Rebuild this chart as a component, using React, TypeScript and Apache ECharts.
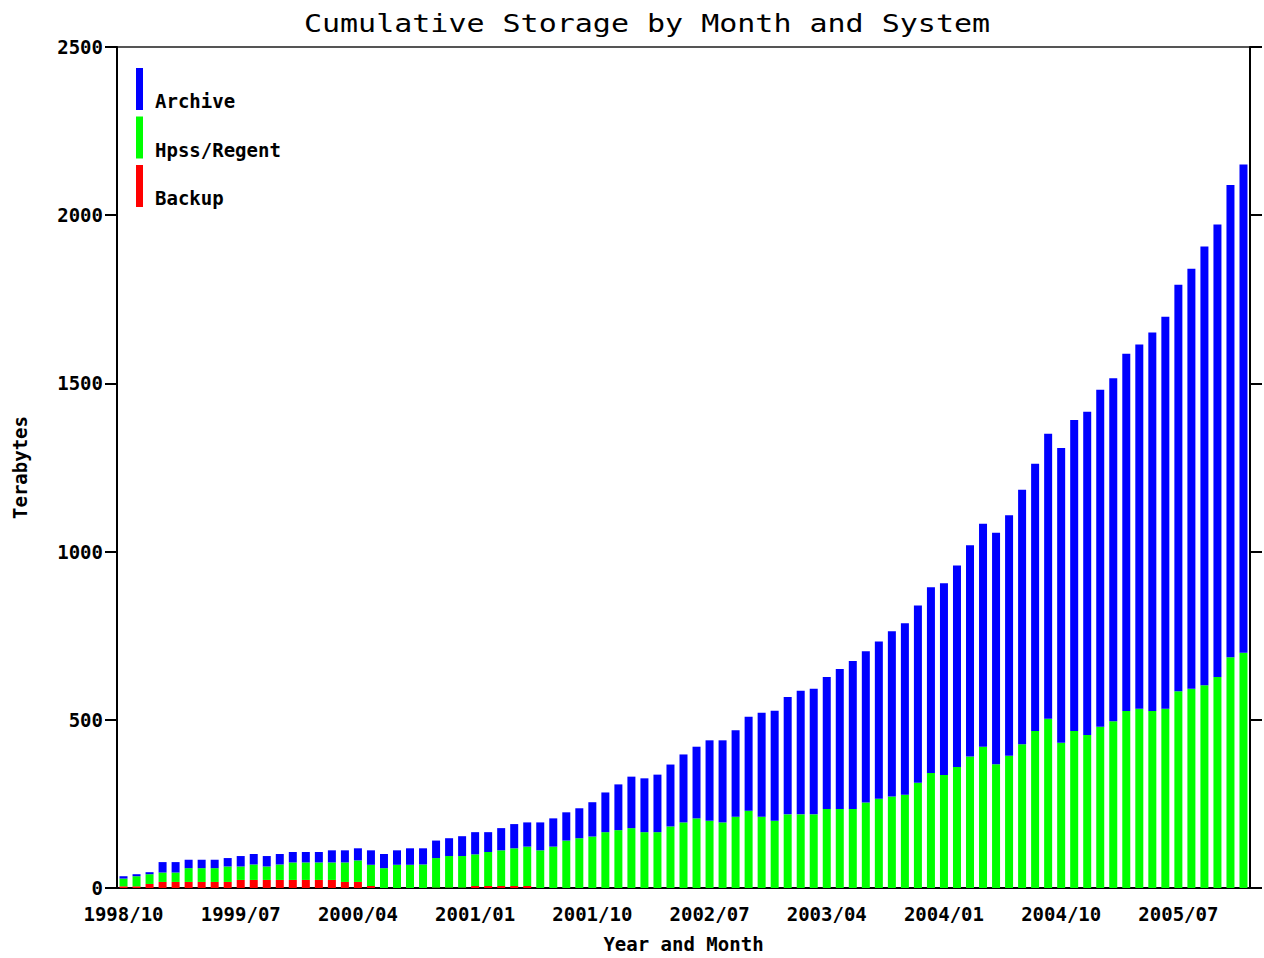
import React, { useEffect, useRef } from "react";
import * as echarts from "echarts";

const startYear = 1998;
const startMonth = 10;
const monthCount = 87;
const months: string[] = [];
for (let k = 0; k < monthCount; k++) {
  const t = startMonth - 1 + k;
  const y = startYear + Math.floor(t / 12);
  const m = (t % 12) + 1;
  months.push(`${y}/${m < 10 ? "0" + m : m}`);
}

const backup = [
  5, 5, 12, 18, 18, 18, 18, 18, 18, 24, 24, 24, 24, 24, 24, 24, 24, 18, 18, 6,
  0, 0, 0, 0, 1, 1, 1, 6, 6, 6, 6, 6, 0, 0, 0, 0, 0, 0, 0, 0,
  0, 0, 0, 0, 0, 0, 0, 0, 0, 0, 0, 0, 0, 0, 0, 0, 0, 0, 0, 0,
  0, 0, 0, 0, 0, 0, 0, 0, 0, 0, 0, 0, 0, 0, 0, 0, 0, 0, 0, 0,
  0, 0, 0, 0, 0, 0, 0,
];

const hpss = [
  23, 30, 29, 28, 28, 41, 41, 41, 46, 40, 46, 40, 46, 52, 52, 52, 52, 58, 64, 63,
  59, 69, 69, 70, 88, 94, 94, 94, 101, 106, 112, 117, 112, 123, 141, 148, 153, 166, 172, 178,
  166, 166, 183, 195, 207, 200, 195, 212, 230, 212, 200, 219, 219, 219, 235, 235, 235, 254, 265, 272,
  277, 313, 342, 336, 360, 391, 420, 368, 393, 427, 467, 503, 432, 467, 455, 479, 496, 526, 533, 526,
  533, 585, 592, 603, 627, 686, 699,
];

const archive = [
  7, 6, 6, 31, 31, 25, 25, 25, 25, 31, 31, 31, 31, 31, 31, 31, 36, 36, 36, 43,
  42, 43, 49, 48, 52, 53, 59, 66, 59, 66, 72, 72, 83, 84, 84, 89, 102, 118, 136, 153,
  160, 171, 184, 202, 213, 239, 244, 257, 279, 309, 327, 349, 367, 373, 392, 416, 440, 450, 468, 491,
  510, 527, 552, 570, 599, 628, 663, 688, 715, 757, 794, 847, 876, 924, 961, 1002, 1019, 1062, 1083, 1125,
  1165, 1208, 1249, 1304, 1345, 1404, 1452,
];

const FONT = "'DejaVu Sans Mono', monospace";

export default function App() {
  const ref = useRef<HTMLDivElement>(null);
  useEffect(() => {
    if (!ref.current) return;
    const chart = echarts.init(ref.current, null, { renderer: "svg" });
    const labelStyle = { fontFamily: FONT, fontWeight: "bold" as const, fontSize: 19, color: "#000" };
    chart.setOption({
      animation: false,
      backgroundColor: "#fff",
      graphic: [
        {
          type: "text",
          x: 647,
          y: 24,
          scaleX: 1.25,
          style: {
            text: "Cumulative Storage by Month and System",
            fontFamily: FONT,
            fontSize: 24,
            fill: "#000",
            textAlign: "center",
            textVerticalAlign: "middle",
          },
        },
      ],
      grid: {
        left: 117,
        right: 14,
        top: 47,
        height: 846,
        show: true,
        borderColor: "#555",
        borderWidth: 2,
        backgroundColor: "transparent",
      },
      legend: {
        orient: "vertical",
        left: 136,
        top: 68,
        padding: 0,
        itemWidth: 7,
        itemHeight: 42,
        itemGap: 6,
        icon: "rect",
        data: ["Archive", "Hpss/Regent", "Backup"],
        formatter: "{a|{name}}",
        textStyle: {
          ...labelStyle,
          rich: { a: { ...labelStyle, padding: [24, 0, 0, 7] } },
        },
      },
      xAxis: {
        type: "category",
        data: months,
        name: "Year and Month",
        nameLocation: "middle",
        nameGap: 46,
        nameTextStyle: labelStyle,
        axisLine: { lineStyle: { color: "#000", width: 2 } },
        axisTick: { interval: 8, alignWithLabel: true, length: 12, lineStyle: { color: "#000", width: 2 } },
        axisLabel: { interval: 8, margin: 16, ...labelStyle },
        splitLine: { show: false },
      },
      yAxis: [
        {
          type: "value",
          min: 0,
          max: 2500,
          interval: 500,
          name: "Terabytes",
          nameLocation: "middle",
          nameGap: 88,
          nameTextStyle: labelStyle,
          axisLine: { show: true, lineStyle: { color: "#000", width: 2 } },
          axisTick: { show: true, length: 12, lineStyle: { color: "#000", width: 2 } },
          axisLabel: { margin: 14, formatter: (v: number) => String(v), ...labelStyle },
          splitLine: { show: false },
        },
        {
          type: "value",
          position: "right",
          min: 0,
          max: 2500,
          interval: 500,
          axisLine: { show: true, lineStyle: { color: "#000", width: 2 } },
          axisTick: { show: true, length: 12, lineStyle: { color: "#000", width: 2 } },
          axisLabel: { show: false },
          splitLine: { show: false },
        },
      ],
      series: [
        { name: "Backup", type: "bar", stack: "total", data: backup, barWidth: 8, itemStyle: { color: "#ff0000" } },
        { name: "Hpss/Regent", type: "bar", stack: "total", data: hpss, barWidth: 8, itemStyle: { color: "#00ff00" } },
        { name: "Archive", type: "bar", stack: "total", data: archive, barWidth: 8, itemStyle: { color: "#0000ff" } },
      ],
    });
    return () => chart.dispose();
  }, []);
  return (
    <div
      ref={ref}
      style={{ position: "fixed", left: 0, top: 0, width: 1264, height: 958, background: "#fff" }}
    />
  );
}
